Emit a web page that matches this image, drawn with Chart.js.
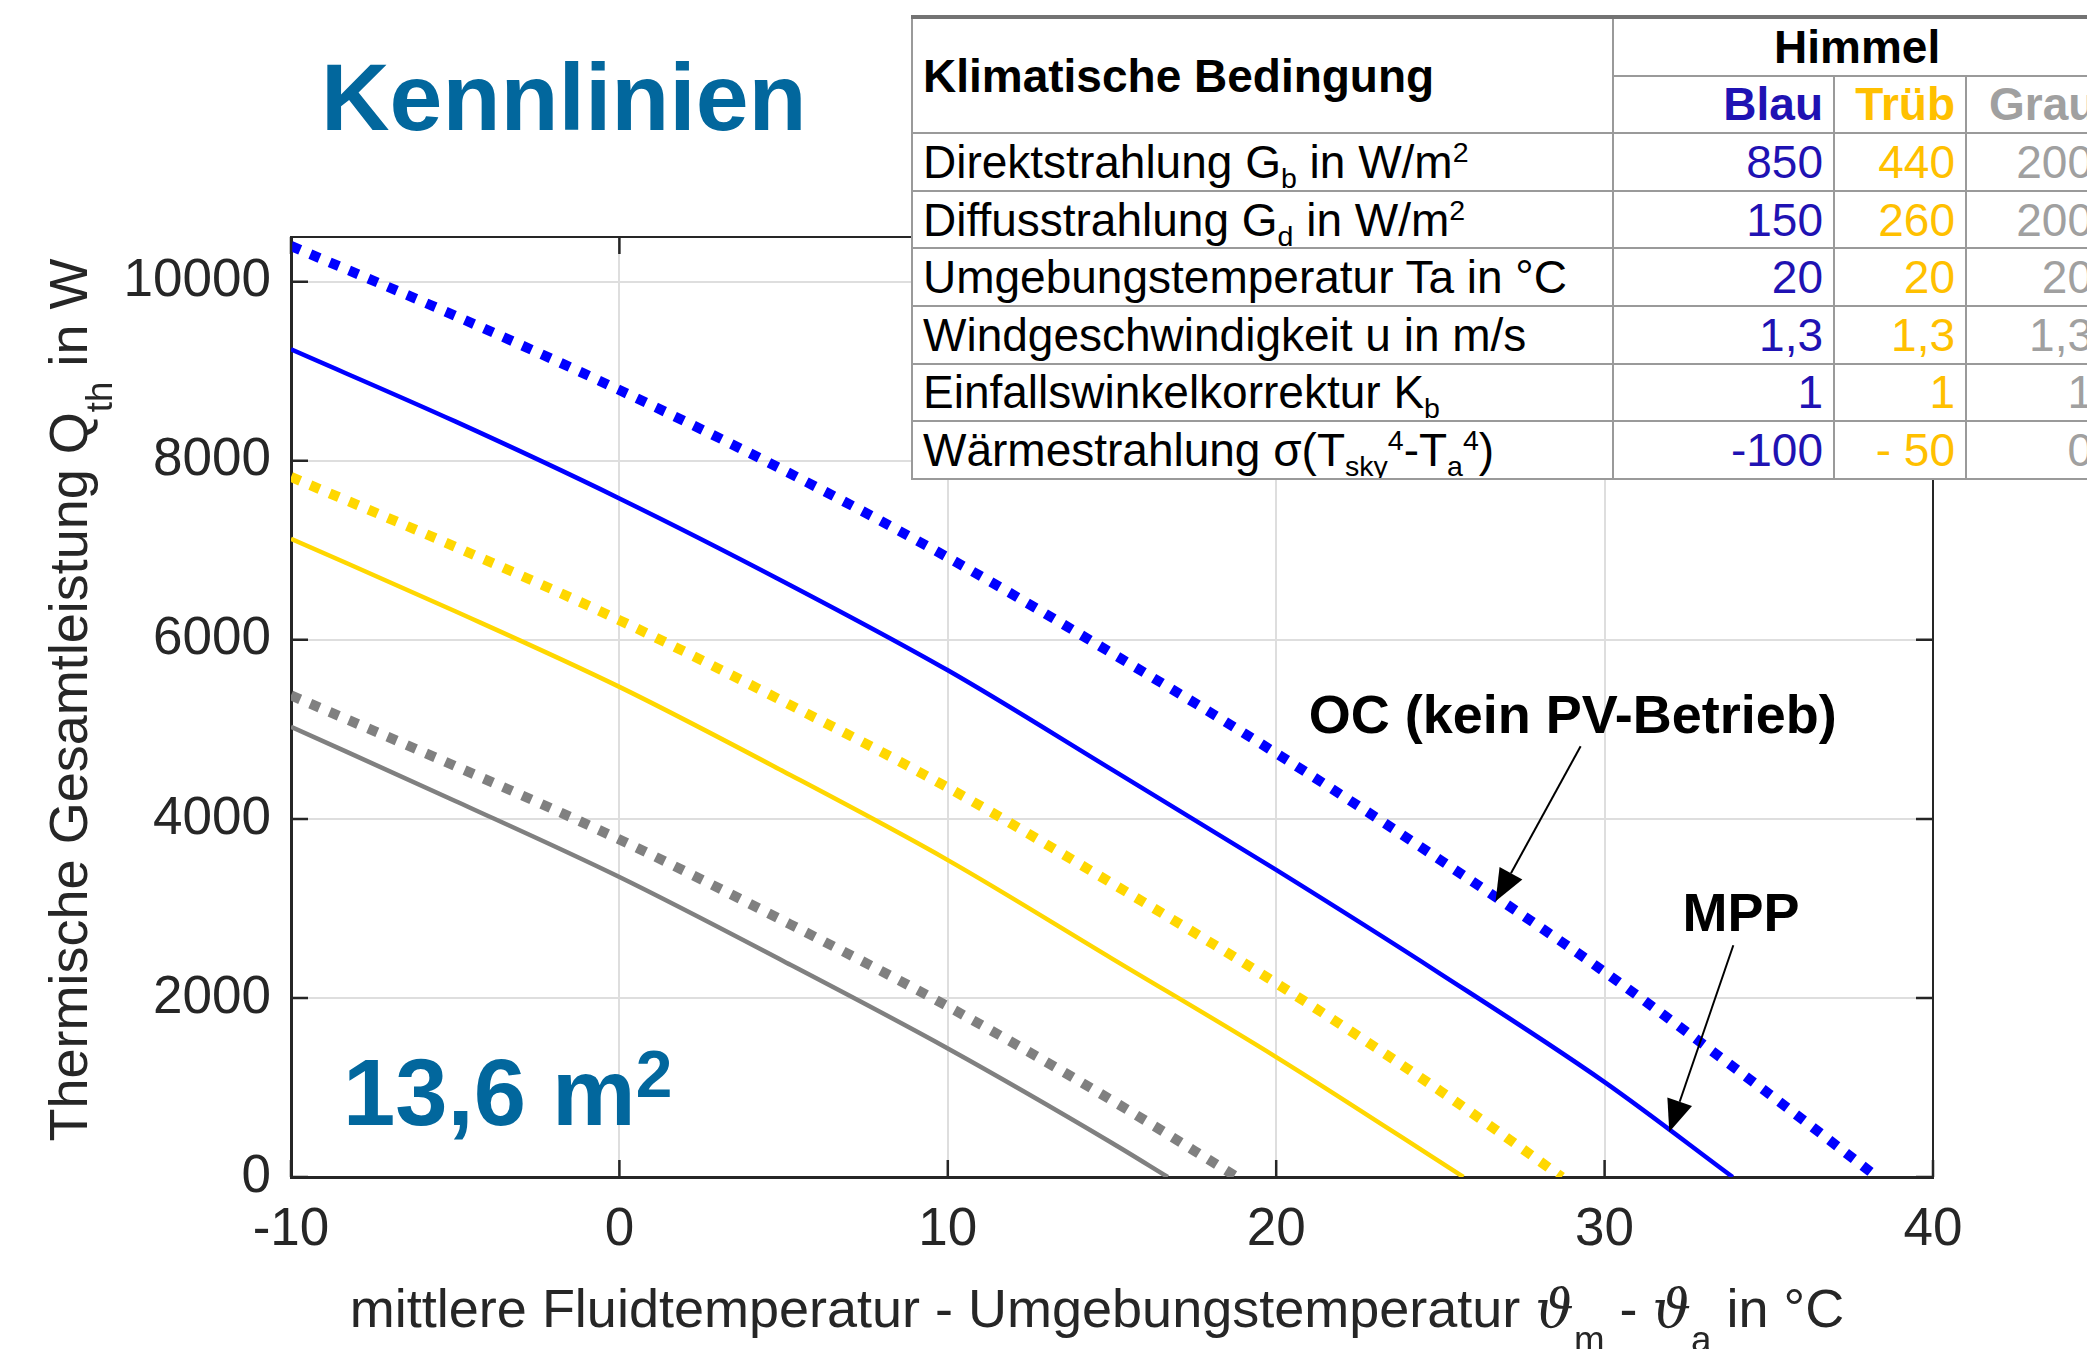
<!DOCTYPE html>
<html lang="de">
<head>
<meta charset="UTF-8">
<title>Kennlinien</title>
<script src="https://cdn.jsdelivr.net/npm/chart.js"></script>
<style>
  html, body { margin: 0; padding: 0; background: #fff; overflow: hidden; }
  #wrap { position: relative; width: 2087px; height: 1349px; overflow: hidden; }
  #chart { position: absolute; left: 0; top: 0; }
  table.klima {
    position: absolute; left: 911px; top: 15px; width: 1214px;
    border-collapse: collapse; background: #fff;
    font-family: "Liberation Sans", Arial, sans-serif; font-size: 46px; color: #000;
    table-layout: fixed;
  }
  table.klima td { border: 2px solid #9a9a9a; padding: 0 10px; white-space: nowrap; height: 55.6px; line-height: 1; overflow: hidden; }
  table.klima tr.top td { border-top: 4px solid #737373; }
  table.klima td.num { text-align: right; padding-right: 10px; }
  table.klima td.head { font-weight: bold; }
  table.klima sub, table.klima sup { font-size: 0.62em; line-height: 0; }
  .blau { color: #1f12b3; }
  .trueb { color: #ffc000; }
  .grau { color: #a0a0a0; }
</style>
</head>
<body>
<div id="wrap">
  <canvas id="chart" width="2087" height="1349"></canvas>
  <table class="klima" id="klima"></table>
</div>
<script>
    // x: mittlere Fluidtemperatur - Umgebungstemperatur in °C, y: Q_th in W
    const blauOcX = [-10, -5, 0, 5, 10, 15, 20, 25, 30, 35, 38.3];
    const blauOcY = [10400, 9620, 8790, 7895, 6920, 5850, 4733, 3540, 2290, 930, 0];
    const blauMppX = [-10, -5, 0, 5, 10, 15, 20, 25, 30, 33.9];
    const blauMppY = [9245, 8440, 7580, 6650, 5660, 4550, 3430, 2270, 1060, 0];

    const truebOcX = [-10, -5, 0, 5, 10, 15, 20, 25, 28.7];
    const truebOcY = [7820, 7040, 6220, 5310, 4350, 3280, 2165, 960, 0];
    const truebMppX = [-10, -5, 0, 5, 10, 15, 20, 25.7];
    const truebMppY = [7130, 6320, 5475, 4530, 3540, 2440, 1340, 0];

    const grauOcX = [-10, -5, 0, 5, 10, 15, 18.8];
    const grauOcY = [5380, 4590, 3770, 2860, 1905, 855, 0];
    const grauMppX = [-10, -5, 0, 5, 10, 15, 16.7];
    const grauMppY = [5030, 4200, 3350, 2410, 1435, 380, 0];

    const xTicks = [-10, 0, 10, 20, 30, 40];
    const yTicks = [0, 2000, 4000, 6000, 8000, 10000];

    // Tabelle: Klimatische Bedingungen
    const tabHimmel = ['Blau', 'Trüb', 'Grau'];
    const tabLabels = [
        'Direktstrahlung G<sub>b</sub> in W/m<sup>2</sup>',
        'Diffusstrahlung G<sub>d</sub> in W/m<sup>2</sup>',
        'Umgebungstemperatur Ta in °C',
        'Windgeschwindigkeit u in m/s',
        'Einfallswinkelkorrektur K<sub>b</sub>',
        'Wärmestrahlung σ(T<sub>sky</sub><sup>4</sup>-T<sub>a</sub><sup>4</sup>)'
    ];
    const tabBlau = ['850', '150', '20', '1,3', '1', '-100'];
    const tabTrueb = ['440', '260', '20', '1,3', '1', '- 50'];
    const tabGrau = ['200', '200', '20', '1,3', '1', '0'];

    const FONT = '"Liberation Sans", Arial, Helvetica, sans-serif';
    const INK = '#262626';
    const TITLE_BLUE = '#02679d';

    function pts(xs, ys) {
        return xs.map((x, i) => ({ x, y: ys[i] }));
    }

    // Tabelle aufbauen
    const tbl = document.getElementById('klima');
    let html = '<colgroup><col style="width:701px"><col style="width:221px"><col style="width:132px"><col style="width:160px"></colgroup>';
    html += '<tr class="top"><td class="head" rowspan="2">Klimatische Bedingung</td>' +
            '<td class="head" colspan="3" style="padding-left:160px">Himmel</td></tr>';
    html += '<tr><td class="head num blau">' + tabHimmel[0] + '</td><td class="head num trueb">' + tabHimmel[1] +
            '</td><td class="head grau" style="padding-left:22px">' + tabHimmel[2] + '</td></tr>';
    tabLabels.forEach((lab, i) => {
        html += '<tr><td>' + lab + '</td><td class="num blau">' + tabBlau[i] + '</td><td class="num trueb">' +
                tabTrueb[i] + '</td><td class="num grau" style="padding-right:32px">' + tabGrau[i] + '</td></tr>';
    });
    tbl.innerHTML = html;

    // Text mit Hoch-/Tiefstellung auf dem Canvas
    function richParts(ctx, parts, size, weight) {
        return parts.map(([t, kind]) => {
            let fs = size, dy = 0, font;
            if (kind === 'sub') { fs = size * 0.68; dy = size * 0.47; }
            if (kind === 'sup') { fs = size * 0.7; dy = -size * 0.3; }
            if (kind === 'it') font = 'italic ' + fs + 'px "DejaVu Serif", serif';
            else font = weight + ' ' + fs + 'px ' + FONT;
            ctx.font = font;
            return { t, font, dy, w: ctx.measureText(t).width };
        });
    }
    function drawRich(ctx, parts, x, y, size, weight, align) {
        const specs = richParts(ctx, parts, size, weight);
        const total = specs.reduce((s, p) => s + p.w, 0);
        let cx = align === 'center' ? x - total / 2 : x;
        ctx.textAlign = 'left';
        ctx.textBaseline = 'alphabetic';
        specs.forEach(p => {
            ctx.font = p.font;
            ctx.fillText(p.t, cx, y + p.dy);
            cx += p.w;
        });
    }
    function arrow(ctx, x0, y0, x1, y1) {
        const ang = Math.atan2(y1 - y0, x1 - x0);
        const hl = 32, hw = 13;
        const bx = x1 - hl * Math.cos(ang), by = y1 - hl * Math.sin(ang);
        ctx.beginPath();
        ctx.moveTo(x0, y0);
        ctx.lineTo(bx, by);
        ctx.stroke();
        ctx.beginPath();
        ctx.moveTo(x1, y1);
        ctx.lineTo(bx + hw * Math.sin(ang), by - hw * Math.cos(ang));
        ctx.lineTo(bx - hw * Math.sin(ang), by + hw * Math.cos(ang));
        ctx.closePath();
        ctx.fill();
    }

    const decor = {
        id: 'decor',
        afterDraw(chart) {
            const { ctx, chartArea: a, scales: { x, y } } = chart;
            ctx.save();
            // Rahmen oben/rechts und Ticks nach innen
            ctx.strokeStyle = INK;
            ctx.lineWidth = 2;
            ctx.beginPath();
            ctx.moveTo(a.left, a.top); ctx.lineTo(a.right, a.top);
            ctx.moveTo(a.right, a.top); ctx.lineTo(a.right, a.bottom);
            ctx.stroke();
            ctx.lineWidth = 2.5;
            ctx.beginPath();
            xTicks.forEach(v => {
                const px = x.getPixelForValue(v);
                ctx.moveTo(px, a.bottom); ctx.lineTo(px, a.bottom - 17);
                ctx.moveTo(px, a.top); ctx.lineTo(px, a.top + 17);
            });
            yTicks.forEach(v => {
                const py = y.getPixelForValue(v);
                ctx.moveTo(a.left, py); ctx.lineTo(a.left + 17, py);
                ctx.moveTo(a.right, py); ctx.lineTo(a.right - 17, py);
            });
            ctx.stroke();

            // Achsentitel
            ctx.fillStyle = INK;
            drawRich(ctx, [['mittlere Fluidtemperatur - Umgebungstemperatur ', ''], ['ϑ', 'it'], ['m', 'sub'],
                           [' - ', ''], ['ϑ', 'it'], ['a', 'sub'], [' in °C', '']], 1097, 1327, 54, 'normal', 'center');
            ctx.save();
            ctx.translate(87, 700);
            ctx.rotate(-Math.PI / 2);
            drawRich(ctx, [['Thermische Gesamtleistung Q', ''], ['th', 'sub'], [' in W', '']], 0, 0, 54, 'normal', 'center');
            ctx.restore();

            // Titel und Fläche
            ctx.fillStyle = TITLE_BLUE;
            drawRich(ctx, [['Kennlinien', '']], 321, 130, 95, 'bold', 'left');
            drawRich(ctx, [['13,6 m', ''], ['2', 'sup']], 343, 1125, 94, 'bold', 'left');

            // Beschriftungen mit Pfeilen
            ctx.fillStyle = '#000';
            ctx.strokeStyle = '#000';
            ctx.lineWidth = 2;
            drawRich(ctx, [['OC (kein PV-Betrieb)', '']], x.getPixelForValue(20.99), y.getPixelForValue(4958), 54, 'bold', 'left');
            drawRich(ctx, [['MPP', '']], x.getPixelForValue(32.37), y.getPixelForValue(2745), 54, 'bold', 'left');
            arrow(ctx, x.getPixelForValue(29.27), y.getPixelForValue(4812), x.getPixelForValue(26.68), y.getPixelForValue(3080));
            arrow(ctx, x.getPixelForValue(33.92), y.getPixelForValue(2589), x.getPixelForValue(31.97), y.getPixelForValue(503));
            ctx.restore();
        }
    };

    function solid(data, color) {
        return { data, borderColor: color, borderWidth: 4.5, pointRadius: 0, cubicInterpolationMode: 'monotone', fill: false };
    }
    function dotted(data, color) {
        return { data, borderColor: color, borderWidth: 10, borderDash: [10, 11], borderCapStyle: 'butt',
                 pointRadius: 0, cubicInterpolationMode: 'monotone', fill: false };
    }

    const tickFont = { family: FONT, size: 53 };

    new Chart(document.getElementById('chart'), {
        type: 'line',
        data: {
            datasets: [
                solid(pts(grauMppX, grauMppY), '#808080'),
                dotted(pts(grauOcX, grauOcY), '#808080'),
                solid(pts(truebMppX, truebMppY), '#ffd700'),
                dotted(pts(truebOcX, truebOcY), '#ffd700'),
                solid(pts(blauMppX, blauMppY), '#0000ff'),
                dotted(pts(blauOcX, blauOcY), '#0000ff')
            ]
        },
        options: {
            responsive: false,
            animation: false,
            devicePixelRatio: 1,
            layout: { padding: { top: 237, right: 154, left: 0, bottom: 0 } },
            plugins: { legend: { display: false }, tooltip: { enabled: false } },
            scales: {
                x: {
                    type: 'linear', min: -10, max: 40,
                    afterBuildTicks(s) { s.ticks = xTicks.map(v => ({ value: v })); },
                    ticks: { padding: 22, font: tickFont, color: INK, maxRotation: 0, autoSkip: false,
                             callback: v => String(v) },
                    grid: { color: '#dedede', lineWidth: 2, drawTicks: false },
                    border: { color: INK, width: 3 },
                    afterFit(s) { s.height = 172; }
                },
                y: {
                    min: 0, max: 10500,
                    afterBuildTicks(s) { s.ticks = yTicks.map(v => ({ value: v })); },
                    ticks: { padding: 20, font: tickFont, color: INK, callback: v => String(v) },
                    grid: { color: '#dedede', lineWidth: 2, drawTicks: false },
                    border: { color: INK, width: 3 },
                    afterFit(s) { s.width = 291; }
                }
            }
        },
        plugins: [decor]
    });
</script>
</body>
</html>
